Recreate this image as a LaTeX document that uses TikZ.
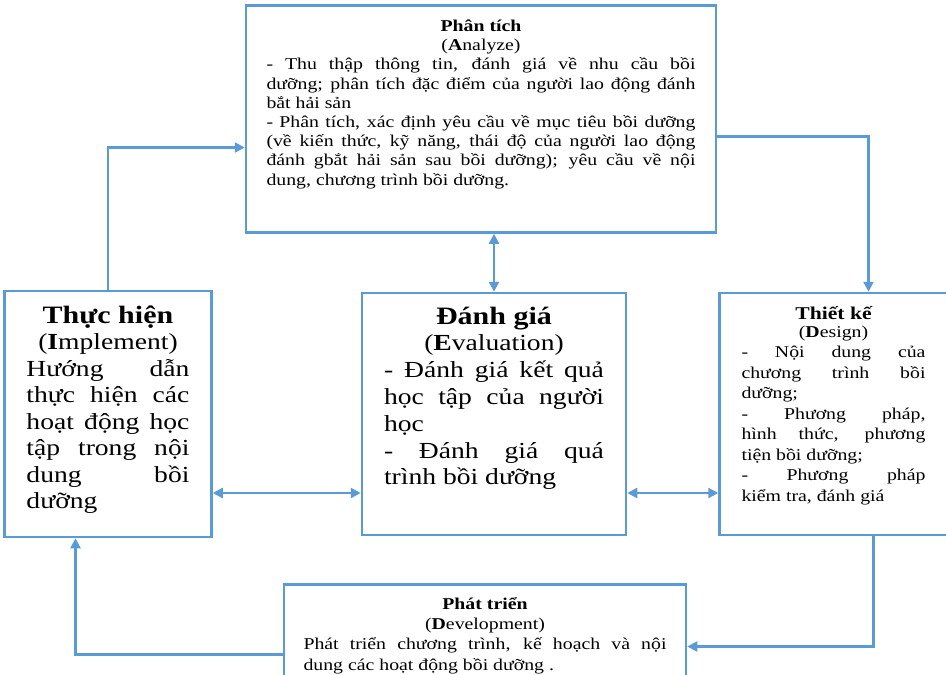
\documentclass[tikz,border=0pt]{standalone}
\usepackage{fontspec}
\setmainfont[FakeStretch=1.2]{Liberation Serif}
\usepackage{tikz}
\usetikzlibrary{arrows.meta, positioning, calc}
\definecolor{boxblue}{HTML}{5B9BD5}
\hyphenpenalty=10000
\exhyphenpenalty=10000

\begin{document}
\begin{tikzpicture}[
    x=1pt, y=1pt,
    box/.style={draw=boxblue, line width=2.5pt, rectangle, align=justify, inner ysep=4pt},
    arrow/.style={-{Triangle[length=10pt, width=10pt]}, draw=boxblue, line width=2.3pt},
    both/.style={{Triangle[length=10pt, width=10pt]}-{Triangle[length=10pt, width=10pt]}, draw=boxblue, line width=2.3pt},
]
    \useasboundingbox (0,0) rectangle (946,-675);
    \clip (0,0) rectangle (946,-675);

    \node[box, text width=220pt, inner xsep=22pt, text height=27pt, text depth=207pt,
        font={\fontsize{23}{26.8}\selectfont}] (evaluate) at (494,-414)
        {{\centering\fontsize{25}{26.8}\selectfont\bfseries Đánh giá\par}
         {\centering (\textbf{E}valuation)\par}
         - Đánh giá kết quả\linebreak học tập của người\linebreak học\par
         - Đánh giá quá\linebreak trình bồi dưỡng};
    \node[box, text width=429pt, inner xsep=20.5pt, text height=22pt, text depth=197pt,
        font={\fontsize{16.5}{19.2}\selectfont}, above=58pt of evaluate, xshift=-13pt] (analyze)
        {{\centering\bfseries Phân tích\par}
         {\centering (\textbf{A}nalyze)\par}
         - Thu thập thông tin, đánh giá về nhu cầu bồi\linebreak dưỡng; phân tích đặc điểm của người lao động đánh\linebreak bắt hải sản\par
         - Phân tích, xác định yêu cầu về mục tiêu bồi dưỡng\linebreak (về kiến thức, kỹ năng, thái độ của người lao động\linebreak đánh gbắt hải sản sau bồi dưỡng); yêu cầu về nội\linebreak dung, chương trình bồi dưỡng.};
    \node[box, text width=163pt, inner xsep=22pt, text height=28pt, text depth=210pt,
        font={\fontsize{23}{26.5}\selectfont}, left=148pt of evaluate] (implement)
        {{\centering\fontsize{25}{26.5}\selectfont\bfseries Thực hiện\par}
         {\centering (\textbf{I}mplement)\par}
         Hướng dẫn\linebreak thực hiện các\linebreak hoạt động học\linebreak tập trong nội\linebreak dung bồi\linebreak dưỡng};
    \node[box, text width=184pt, inner xsep=22pt, text height=22pt, text depth=212pt,
        font={\fontsize{16.5}{20.5}\selectfont}, right=91pt of evaluate] (design)
        {{\centering\fontsize{18}{20}\selectfont\bfseries Thiết kế\par}
         {\centering\fontsize{16.5}{18}\selectfont (\textbf{D}esign)\par}
         - Nội dung của\linebreak chương trình bồi\linebreak dưỡng;\par
         - Phương pháp,\linebreak hình thức, phương\linebreak tiện bồi dưỡng;\par
         - Phương pháp\linebreak kiểm tra, đánh giá};
    \node[box, text width=363pt, inner xsep=19.5pt, text height=21pt, text depth=95pt,
        font={\fontsize{16.5}{20.2}\selectfont}, below=47pt of evaluate, xshift=-9pt] (develop)
        {{\centering\bfseries Phát triển\par}
         {\centering (\textbf{D}evelopment)\par}
         Phát triển chương trình, kế hoạch và nội\linebreak dung các hoạt động bồi dưỡng .};

    % cycle
    \draw[arrow] (implement.north) |- ([yshift=-28.5pt]analyze.west);
    \draw[arrow] ([yshift=-17.5pt]analyze.east) -| ([xshift=35pt]design.north);
    \draw[arrow] ([xshift=40pt]design.south) |- (develop.east);
    \draw[arrow] ([yshift=-8pt]develop.west) -| ([xshift=-32.5pt]implement.south);

    % evaluation links
    \coordinate (midrow) at ([yshift=-79pt]evaluate.center);
    \draw[both] (evaluate.north |- analyze.south) -- (evaluate.north);
    \draw[both] (implement.east |- midrow) -- (evaluate.west |- midrow);
    \draw[both] (evaluate.east |- midrow) -- (design.west |- midrow);
\end{tikzpicture}
\end{document}
